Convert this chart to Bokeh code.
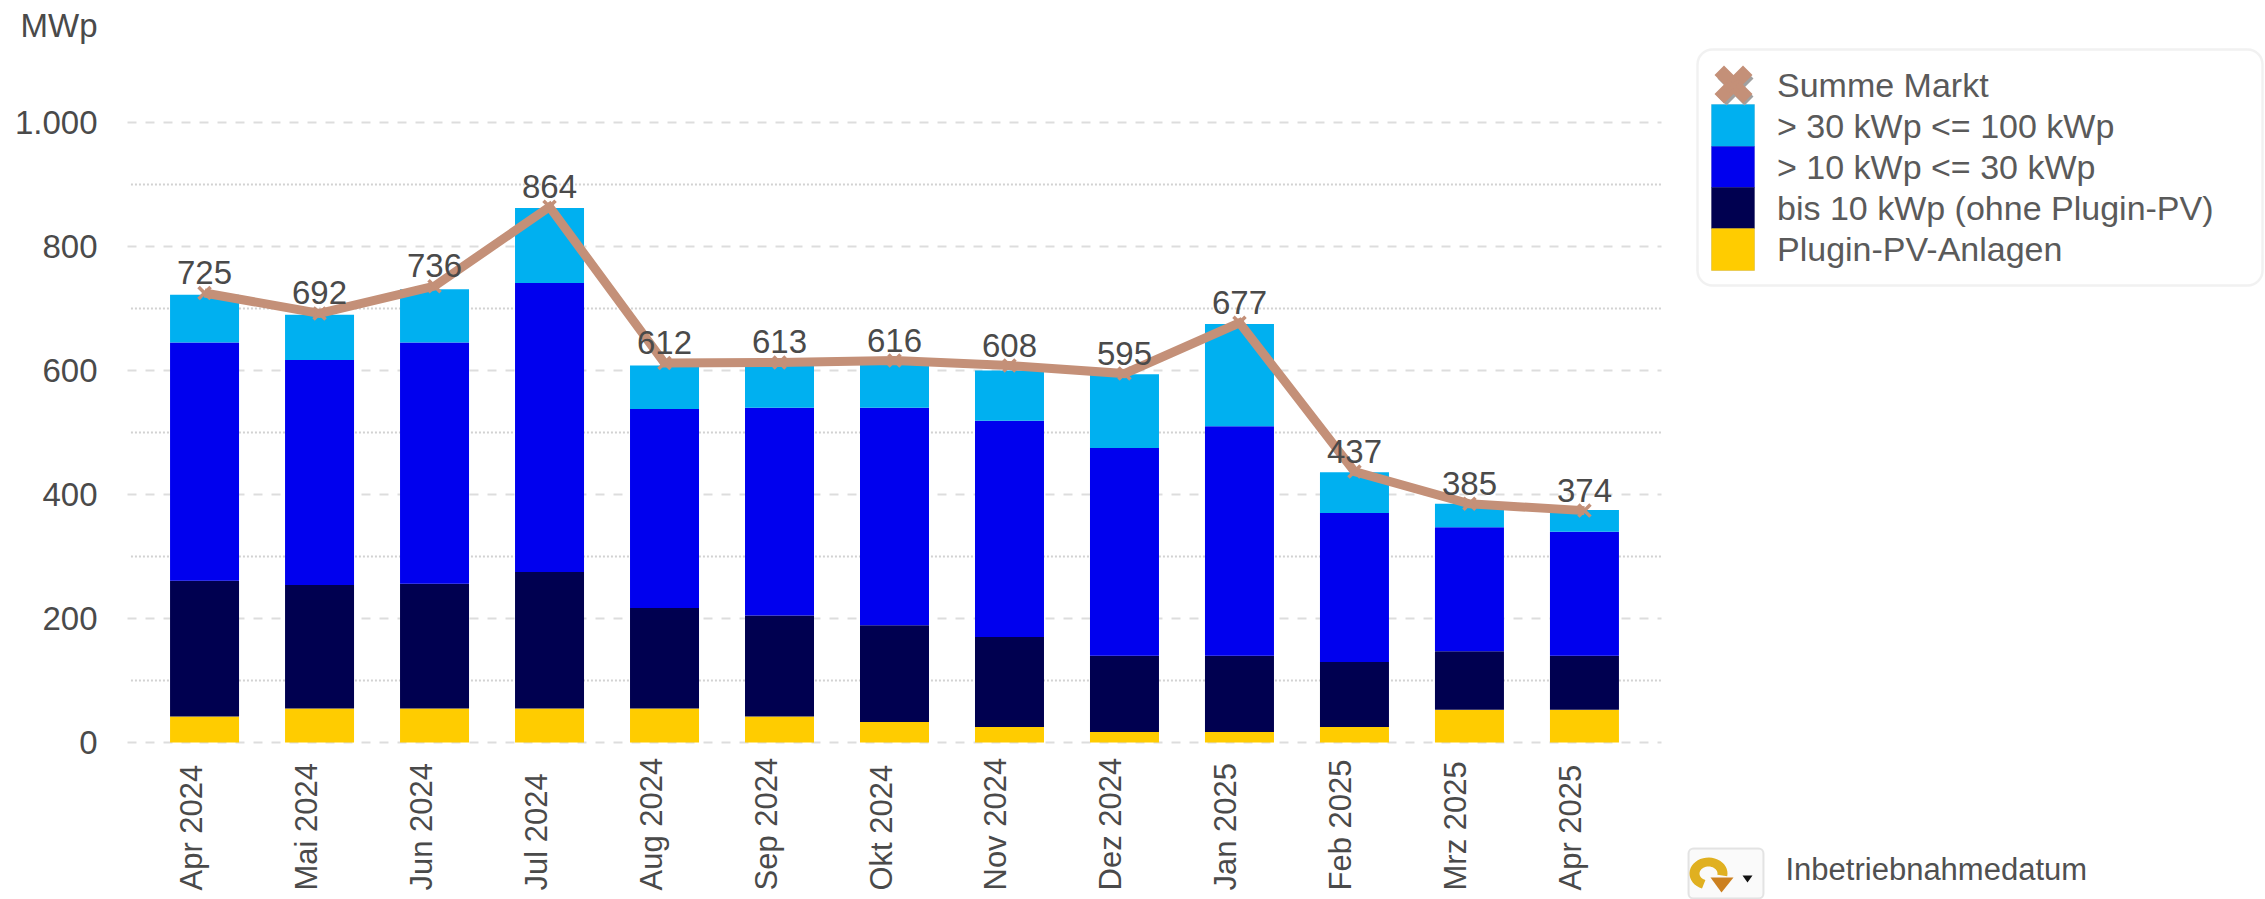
import math
import numpy as np
from bokeh.plotting import figure
from bokeh.embed import file_html
from bokeh.resources import INLINE
from bokeh.core.properties import value
from bokeh.models import (ColumnDataSource, FixedTicker, Legend, LegendItem, Label, LabelSet,
                          BoxAnnotation, PolyAnnotation, Range1d)

months = ["Apr 2024", "Mai 2024", "Jun 2024", "Jul 2024", "Aug 2024", "Sep 2024", "Okt 2024",
          "Nov 2024", "Dez 2024", "Jan 2025", "Feb 2025", "Mrz 2025", "Apr 2025"]
plugin = [42, 55, 55, 55, 55, 42, 33, 25, 17, 17, 25, 53, 53]
bis10 = [219, 199, 201, 220, 162, 163, 156, 145, 123, 123, 105, 94, 87]
b10_30 = [384, 363, 389, 466, 321, 335, 351, 349, 335, 370, 240, 200, 200]
b30_100 = [77, 73, 86, 121, 70, 70, 70, 81, 119, 165, 66, 38, 35]
summe = [725, 692, 736, 864, 612, 613, 616, 608, 595, 677, 437, 385, 374]
y_ticks = [0, 200, 400, 600, 800, 1000]
y_minor = [100, 300, 500, 700, 900]
y_tick_labels = {0: "0", 200: "200", 400: "400", 600: "600", 800: "800", 1000: "1.000"}
series_names = ["Plugin-PV-Anlagen", "bis 10 kWp (ohne Plugin-PV)", "> 10 kWp <= 30 kWp", "> 30 kWp <= 100 kWp"]
series_colors = ["#FFCC00", "#000050", "#0000EE", "#00B0F0"]
swatch_edges = ["#B89400", "#000040", "#0000B0", "#0090C4"]
line_name = "Summe Markt"
line_color = "#C49078"
unit = "MWp"
footer = "Inbetriebnahmedatum"

FONT = "Liberation Sans"
TXT = "#4A4A4A"
W, H = 2265, 899
# plot area in page pixels; the frame fills the canvas so nothing outside it is clipped
AL, AR, AT, AB = 127, 1661, 122, 742
XMIN, XMAX = -0.67, 12.67
YMIN, YMAX = 0, 1000
ux = (AR - AL) / (XMAX - XMIN)
uy = (AB - AT) / (YMAX - YMIN)
def sx(px): return px
def sy(px): return H - px

xs = list(range(len(months)))
p = figure(width=W, height=H, output_backend="svg", toolbar_location=None,
           x_range=Range1d(XMIN - AL / ux, XMAX + (W - AR) / ux),
           y_range=Range1d(YMIN - (H - AB) / uy, YMAX + AT / uy),
           min_border_left=0, min_border_right=0, min_border_top=0, min_border_bottom=0)
p.outline_line_color = None
p.background_fill_color = "white"

p.xaxis.visible = False
p.grid.visible = False
p.yaxis.fixed_location = XMIN
p.yaxis.ticker = FixedTicker(ticks=y_ticks, minor_ticks=y_minor)
p.yaxis.major_label_overrides = y_tick_labels
p.yaxis.axis_line_color = None
p.yaxis.major_tick_line_color = None
p.yaxis.minor_tick_line_color = None
p.yaxis.major_label_standoff = 24
p.yaxis.major_label_text_font = FONT
p.yaxis.major_label_text_font_size = "33px"
p.yaxis.major_label_text_color = TXT

# grid lines limited to the plot area
p.segment(x0=[XMIN] * len(y_ticks), x1=[XMAX] * len(y_ticks), y0=y_ticks, y1=y_ticks,
          line_color="#DDDDDD", line_width=2, line_dash="9 9", level="underlay")
p.segment(x0=[XMIN + 0.03] * len(y_minor), x1=[XMAX] * len(y_minor), y0=y_minor, y1=y_minor,
          line_color="#D2D2D2", line_width=2, line_dash="2 2", level="underlay")

src = ColumnDataSource(dict(x=xs, month=months, summe=summe, plugin=plugin, bis10=bis10,
                            b10_30=b10_30, b30_100=b30_100, base=[0] * len(months),
                            summe_txt=[str(v) for v in summe]))
stack_keys = ["plugin", "bis10", "b10_30", "b30_100"]
bars = p.vbar_stack(stack_keys, x="x", width=0.6, source=src, color=series_colors, line_color=None)
line_r = p.line("x", "summe", source=src, line_color=line_color, line_width=9, line_join="miter")
mark_r = p.scatter("x", "summe", source=src, marker="x", size=17, line_color=line_color, line_width=3.5)

p.add_layout(LabelSet(x="x", y="summe", text="summe_txt", source=src, y_offset=9,
                      text_align="center", text_baseline="bottom", text_font=value(FONT),
                      text_font_size="33px", text_color=TXT))
p.add_layout(LabelSet(x="x", y="base", text="month", source=src, angle=math.pi / 2, x_offset=4, y_offset=-148,
                      text_align="left", text_baseline="bottom", text_font=value(FONT),
                      text_font_size="31px", text_color=TXT))
p.add_layout(Label(x=sx(20), y=sy(25), x_units="screen", y_units="screen", text=unit, text_font=FONT,
                   text_baseline="alphabetic", text_font_size="33px", text_color=TXT))
p.add_layout(Label(x=sx(1785), y=sy(869), x_units="screen", y_units="screen", text=footer, text_font=FONT,
                   text_baseline="alphabetic", text_font_size="31px", text_color="#505050"))

# legend frame
def box(l, r, t, b, fill, line, lw=1, radius=0, level="overlay"):
    p.add_layout(BoxAnnotation(left=sx(l), right=sx(r), top=sy(t), bottom=sy(b),
                               left_units="screen", right_units="screen", top_units="screen", bottom_units="screen",
                               fill_color=fill, fill_alpha=1, line_color=line, line_width=lw,
                               border_radius=radius, level=level))
box(1697, 2262, 49, 285, "white", "#D2D2D2", 2.5, 15, "annotation")
items = [LegendItem(label=line_name, renderers=[mark_r])]
for i in [3, 2, 1, 0]:
    items.append(LegendItem(label=series_names[i], renderers=[bars[i]]))
leg = Legend(items=items, location=(sx(1711), H - 270), orientation="vertical",
             padding=0, margin=0, spacing=0, glyph_width=43, glyph_height=41, label_height=41,
             label_standoff=23, border_line_color=None, background_fill_alpha=0,
             label_text_font=FONT, label_text_font_size="34px", label_text_color="#5A5A5A",
             label_text_baseline="middle")
p.add_layout(leg, "center")

# legend swatches fill their rows edge to edge
rows = [(104, 146), (146, 187), (187, 228), (228, 270)]
for (t_, b_), i in zip(rows, [3, 2, 1, 0]):
    box(1711, 1754, t_, b_, series_colors[i], swatch_edges[i])

# legend marker: a large X with a grey shadow
def x_poly(cx, cy, r, t):
    pts = [(-r, -r + t), (-r + t, -r), (0, -t), (r - t, -r), (r, -r + t), (t, 0), (r, r - t), (r - t, r), (0, t), (-r + t, r), (-r, r - t), (-t, 0)]
    return [sx(cx + a) for a, b in pts], [sy(cy + b) for a, b in pts]
def poly(xs_, ys_, color, line=None):
    p.add_layout(PolyAnnotation(xs=xs_, ys=ys_, xs_units="screen", ys_units="screen",
                                fill_color=color, fill_alpha=1, line_color=line, level="overlay"))
poly(*x_poly(1735, 87, 18, 9), "#A0A0A0")
poly(*x_poly(1733, 84, 19, 9.5), line_color)

# button icon
box(1688, 1763, 848, 898, "#FAFAFA", "#A8A8A8", 2, 5)
t = np.radians(np.linspace(-10, 250, 30))
cx, cy = 1708, 873
ax = list(cx + 19 * np.cos(t)) + list(cx + 9 * np.cos(t))[::-1]
ay = list(cy - 16 * np.sin(t)) + list(cy - 7 * np.sin(t))[::-1]
poly([sx(v) for v in ax], [sy(v) for v in ay], "#E0B020")
poly([sx(1710), sx(1733), sx(1721)], [sy(877), sy(877), sy(892)], "#CC8020")
poly([sx(1742), sx(1752), sx(1747)], [sy(875), sy(875), sy(882)], "#111111")

open("out.html", "w").write(file_html(p, INLINE))
